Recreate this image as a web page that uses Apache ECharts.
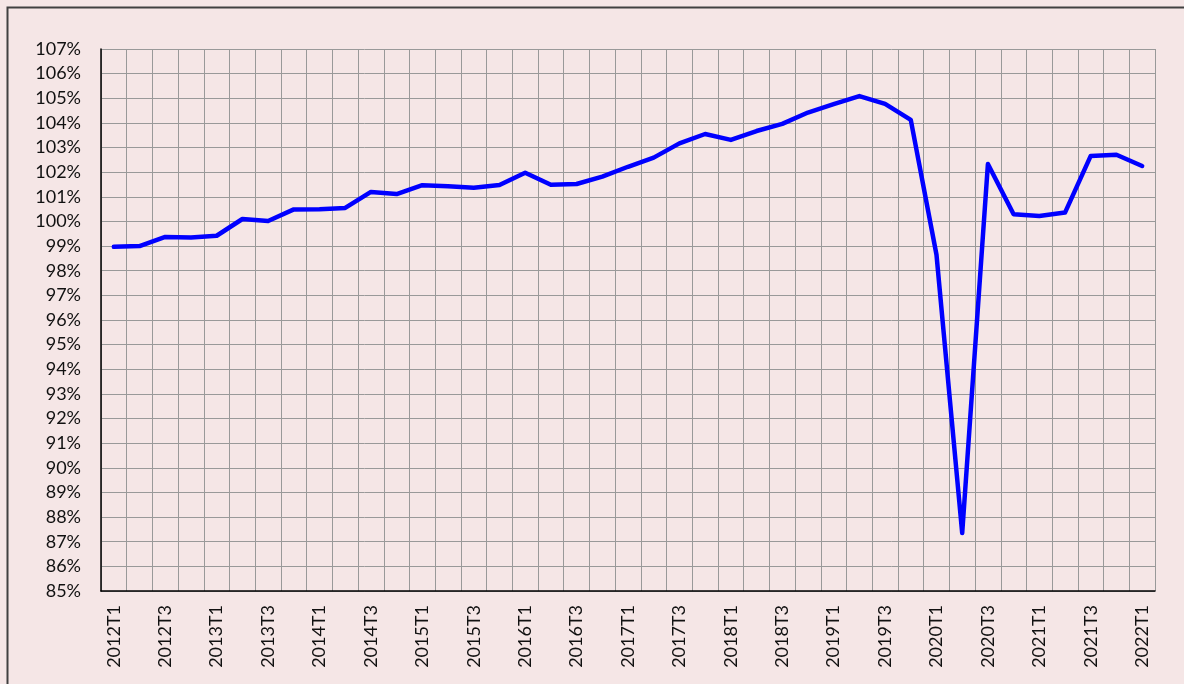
<!DOCTYPE html>
<html>
<head>
<meta charset="utf-8">
<script src="https://cdn.jsdelivr.net/npm/echarts@6/dist/echarts.min.js"></script>
<style>
html,body{margin:0;padding:0;background:#F5E6E6;}
#c{width:1184px;height:684px;}
</style>
</head>
<body>
<div id="c"></div>
<script>
const categories = [
 '2012T1','2012T2','2012T3','2012T4',
 '2013T1','2013T2','2013T3','2013T4',
 '2014T1','2014T2','2014T3','2014T4',
 '2015T1','2015T2','2015T3','2015T4',
 '2016T1','2016T2','2016T3','2016T4',
 '2017T1','2017T2','2017T3','2017T4',
 '2018T1','2018T2','2018T3','2018T4',
 '2019T1','2019T2','2019T3','2019T4',
 '2020T1','2020T2','2020T3','2020T4',
 '2021T1','2021T2','2021T3','2021T4',
 '2022T1'
];
const values = [
 98.97, 99.00, 99.37, 99.35,
 99.42, 100.10, 100.02, 100.49,
 100.50, 100.55, 101.20, 101.11,
 101.47, 101.43, 101.37, 101.48,
 101.98, 101.49, 101.52, 101.82,
 102.22, 102.59, 103.17, 103.55,
 103.31, 103.67, 103.96, 104.42,
 104.76, 105.09, 104.77, 104.12,
 98.65, 87.35, 102.33, 100.29,
 100.22, 100.36, 102.66, 102.71,
 102.25
];
const yMin = 85, yMax = 107, yStep = 1;

const chart = echarts.init(document.getElementById('c'), null, {renderer:'canvas'});
chart.setOption({
  backgroundColor: '#F5E6E6',
  animation: false,
  graphic: [{
    type: 'rect',
    shape: {x: 7.5, y: 7.5, width: 1300, height: 800},
    style: {fill: 'none', stroke: '#404040', lineWidth: 2},
    silent: true
  }],
  grid: {left: 101, right: 29, top: 49, bottom: 93, containLabel: false},
  xAxis: {
    type: 'category',
    data: categories,
    boundaryGap: true,
    axisLine: {show: true, lineStyle: {color: '#000', width: 1.5}},
    axisTick: {show: false},
    axisLabel: {
      interval: 1, rotate: 90, margin: 14,
      color: '#111', fontFamily: 'Lato', fontSize: 18
    },
    splitLine: {show: true, interval: 0, lineStyle: {color: '#999', width: 1}}
  },
  yAxis: {
    type: 'value',
    min: yMin, max: yMax, interval: yStep,
    axisLine: {show: true, lineStyle: {color: '#000', width: 1.5}},
    axisTick: {show: false},
    axisLabel: {
      formatter: '{value}%', margin: 20,
      color: '#111', fontFamily: 'Lato', fontSize: 18
    },
    splitLine: {show: true, lineStyle: {color: '#999', width: 1}}
  },
  series: [{
    type: 'line',
    data: values,
    showSymbol: false,
    symbol: 'none',
    lineStyle: {color: '#0000FF', width: 4.5, join: 'round', cap: 'round'},
    itemStyle: {color: '#0000FF'}
  }]
});
</script>
</body>
</html>
